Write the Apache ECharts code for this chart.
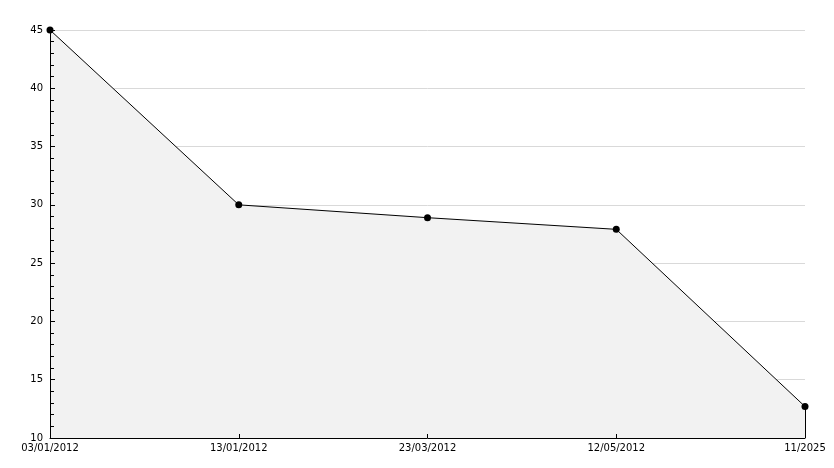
<!DOCTYPE html>
<html><head><meta charset="utf-8">
<script src="https://cdn.jsdelivr.net/npm/echarts@6/dist/echarts.min.js"></script>
<style>html,body{margin:0;padding:0;background:#fff}#c{width:834px;height:468px}</style>
</head><body><div id="c"></div>
<script>
const categories = ['03/01/2012','13/01/2012','23/03/2012','12/05/2012','11/2025'];
const values = [45, 30, 28.9, 27.9, 12.7];
const yMin = 10, yMax = 45, yStep = 5;

const chart = echarts.init(document.getElementById('c'), null, {renderer:'canvas'});
const font = 'DejaVu Sans';
const lastCat = categories[categories.length-1];
const lastVal = values[values.length-1];
chart.setOption({
  animation:false,
  backgroundColor:'#fff',
  grid:{left:50, right:29, top:30, bottom:30, containLabel:false},
  xAxis:{
    type:'category', data:categories, boundaryGap:false, z:5,
    axisLine:{lineStyle:{color:'#000', width:1}},
    axisTick:{inside:true, length:4, lineStyle:{color:'#000'}},
    axisLabel:{color:'#000', fontFamily:font, fontSize:10, margin:5, interval:0},
    splitLine:{show:false}
  },
  yAxis:[{
    type:'value', min:yMin, max:yMax, interval:yStep, z:0,
    axisLine:{show:false}, axisTick:{show:false}, axisLabel:{show:false},
    splitLine:{show:true, lineStyle:{color:'#d9d9d9', width:1}}
  },{
    type:'value', min:yMin, max:yMax, interval:yStep, z:5, position:'left',
    axisLine:{show:true, onZero:false, lineStyle:{color:'#000', width:1}},
    axisTick:{show:true, inside:true, length:5, lineStyle:{color:'#000'}},
    minorTick:{show:true, splitNumber:5, length:4, lineStyle:{color:'#000'}},
    axisLabel:{color:'#000', fontFamily:font, fontSize:10, margin:7},
    splitLine:{show:false}
  }],
  series:[{
    type:'line', data:values, yAxisIndex:0,
    symbol:'circle', symbolSize:7,
    itemStyle:{color:'#000'},
    lineStyle:{color:'#000', width:1},
    areaStyle:{color:'#f2f2f2', opacity:1},
    z:2,
    markLine:{
      silent:true, symbol:['none','none'], label:{show:false},
      lineStyle:{color:'#000', width:1, type:'solid'},
      data:[[{coord:[lastCat, lastVal]},{coord:[lastCat, yMin]}]]
    }
  }]
});
</script></body></html>
